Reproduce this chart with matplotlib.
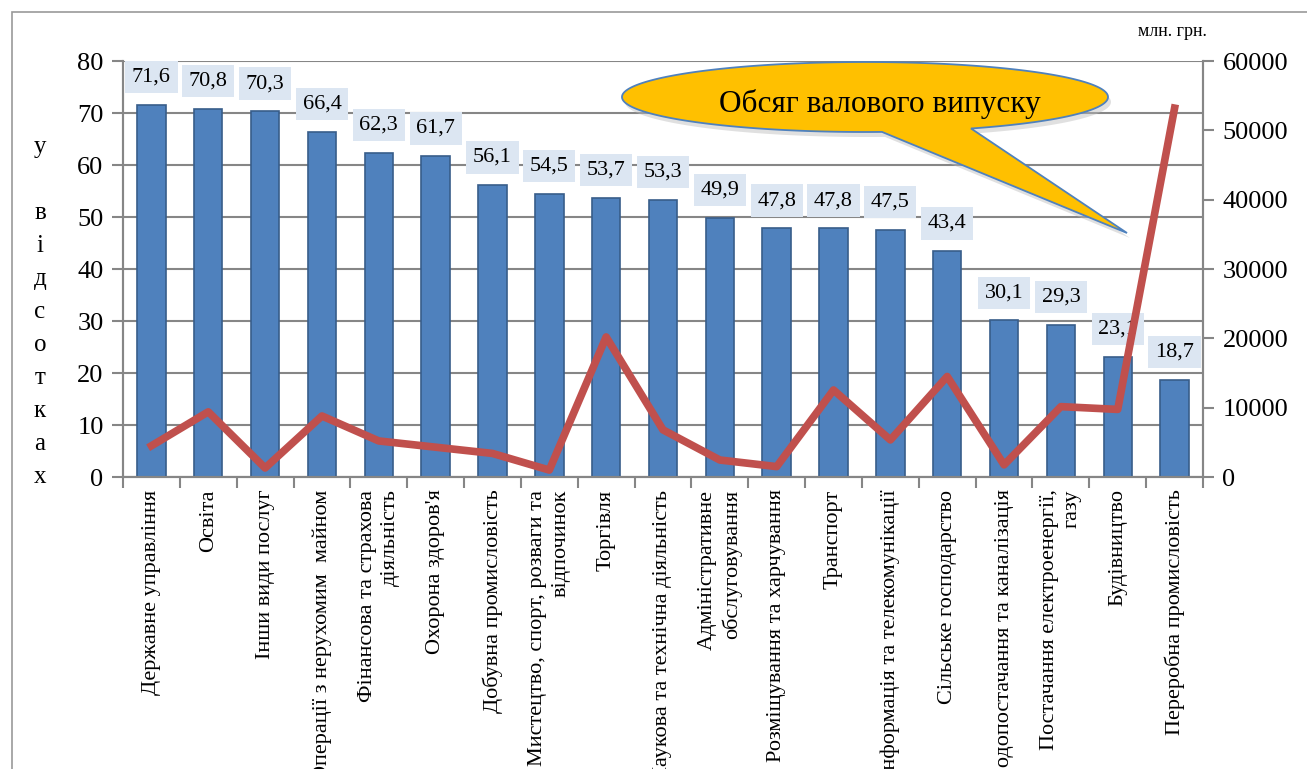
import numpy as np
import matplotlib
matplotlib.use("Agg")
import matplotlib.pyplot as plt
from matplotlib.patches import Polygon, Rectangle

plt.rcParams['font.family'] = ['Liberation Serif', 'DejaVu Serif']

categories = [
    "Державне управління", "Освіта", "Інши види послуг",
    "Операції з нерухомим  майном", "Фінансова та страхова\nдіяльність",
    "Охорона здоров'я", "Добувна промисловість",
    "Мистецтво, спорт, розваги та\nвідпочинок", "Торгівля",
    "Наукова та технічна діяльність", "Адміністративне\nобслуговування",
    "Розміщування та харчування", "Транспорт",
    "Інформація та телекомунікації", "Сільське господарство",
    "Водопостачання та каналізація", "Постачання електроенергії,\nгазу",
    "Будівництво", "Переробна промисловість",
]
percent = [71.6, 70.8, 70.3, 66.4, 62.3, 61.7, 56.1, 54.5, 53.7, 53.3,
           49.9, 47.8, 47.8, 47.5, 43.4, 30.1, 29.3, 23.1, 18.7]
output = [4500, 9400, 1300, 8800, 5200, 4300, 3400, 1000, 20200, 6800,
          2450, 1500, 12550, 5350, 14500, 1750, 10150, 9750, 53200]
left_ticks = [0, 10, 20, 30, 40, 50, 60, 70, 80]
right_ticks = [0, 10000, 20000, 30000, 40000, 50000, 60000]

W, H = 1307, 769
fig = plt.figure(figsize=(W / 100, H / 100), dpi=100)
ax = fig.add_axes([123 / W, 1 - 477 / H, (1203 - 123) / W, (477 - 61) / H])
ax2 = ax.twinx()

grey = '#868686'
x = np.arange(len(categories))
ax.set_axisbelow(True)
ax.yaxis.grid(True, color=grey, lw=1.5)
ax.bar(x, percent, width=0.5, color='#4F81BD', edgecolor='#385D8A', lw=1.2, zorder=2)
for xi, v in zip(x, percent):
    ax.annotate(f"{v:.1f}".replace('.', ','), (xi, v), xytext=(0, 20),
                textcoords='offset points', ha='center', va='center', fontsize=16,
                bbox=dict(boxstyle='square,pad=0.3', fc='#DCE6F2', ec='none'), zorder=3)

ax.set_xlim(-0.5, len(categories) - 0.5)
ax.set_ylim(0, 80)
ax.set_yticks(left_ticks)
ax.set_xticks(x)
ax.set_xticklabels(categories, rotation=90, fontsize=16, va='top', ha='center',
                   multialignment='right', linespacing=1.3)
ax.set_xticks(np.arange(-0.5, len(categories), 1), minor=True)
ax.tick_params(axis='x', which='major', length=0, pad=9)
ax.tick_params(axis='x', which='minor', length=8, color=grey, width=1.5, direction='out')
ax.tick_params(axis='y', labelsize=19, length=8, color=grey, width=1.5, pad=6)

ax2.plot(x, output, color='#C0504D', lw=5.5, solid_joinstyle='round', zorder=5)
ax2.set_ylim(0, 60000)
ax2.set_yticks(right_ticks)
ax2.tick_params(axis='y', labelsize=19, length=8, color=grey, width=1.5, pad=6)

for a in (ax, ax2):
    a.spines['top'].set_visible(False)
    for s in ('left', 'right', 'bottom'):
        a.spines[s].set_color(grey)
        a.spines[s].set_linewidth(1.5)

# outer frame
fig.patches.append(Rectangle((12 / W, -0.05), 1.2, 1 - 12 / H + 0.05,
                             transform=fig.transFigure, fill=False, ec='#999999', lw=1.2))

# y label stacked letters
fig.text(40 / W, 1 - 312 / H, "у\n\nв\nі\nд\nс\nо\nт\nк\nа\nх", ha='center', va='center',
         fontsize=18, linespacing=1.65)
fig.text(1172 / W, 1 - 32 / H, "млн. грн.", ha='center', va='center', fontsize=13)

# callout
cx, cy, a_, b_ = 865, 97, 243, 35
t1 = np.arccos((882 - cx) / a_)
t0 = np.arccos((971 - cx) / a_)
ts = np.linspace(t1, t0 + 2 * np.pi, 300)
pts = [((cx + a_ * np.cos(t)) / W, 1 - (cy + b_ * np.sin(t)) / H) for t in ts]
pts.append((1127 / W, 1 - 233 / H))
shadow = [(px + 3 / W, py - 5 / H) for px, py in pts]
fig.patches.append(Polygon(shadow, closed=True, transform=fig.transFigure,
                           fc='#bbbbbb', ec='none', alpha=0.45))
fig.patches.append(Polygon(pts, closed=True, transform=fig.transFigure,
                           fc='#FFC000', ec='#4F81BD', lw=1.3))
fig.text(880 / W, 1 - 104 / H, "Обсяг валового випуску", ha='center', va='center', fontsize=22.5)

fig.savefig("out.png", dpi=100)
